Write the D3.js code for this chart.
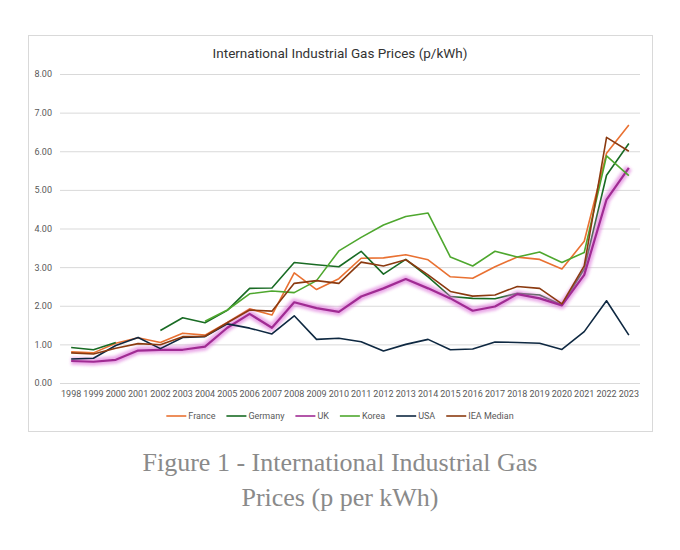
<!DOCTYPE html>
<html>
<head>
<meta charset="utf-8">
<script src="https://cdn.jsdelivr.net/npm/d3@7"></script>
<style>
  body { margin: 0; background: #fff; }
  svg { display: block; }
</style>
</head>
<body>
<svg id="chart" width="680" height="550"></svg>
<script>
var years = [1998, 1999, 2000, 2001, 2002, 2003, 2004, 2005, 2006, 2007, 2008, 2009, 2010,
  2011, 2012, 2013, 2014, 2015, 2016, 2017, 2018, 2019, 2020, 2021, 2022, 2023];

var france = [0.81, 0.78, 1.03, 1.17, 1.05, 1.29, 1.24, 1.57, 1.92, 1.76, 2.85, 2.42, 2.70,
  3.23, 3.24, 3.32, 3.19, 2.75, 2.71, 3.01, 3.26, 3.20, 2.95, 3.67, 5.95, 6.68];
var germany = [0.92, 0.86, 1.05, null, 1.36, 1.69, 1.56, 1.88, 2.45, 2.46, 3.12, 3.06, 3.01,
  3.41, 2.82, 3.20, 2.75, 2.24, 2.19, 2.18, 2.32, 2.28, 2.02, 2.95, 5.38, 6.20];
var uk = [0.57, 0.55, 0.60, 0.84, 0.86, 0.86, 0.94, 1.43, 1.79, 1.43, 2.09, 1.94, 1.84,
  2.24, 2.45, 2.69, 2.45, 2.19, 1.87, 1.98, 2.30, 2.19, 2.01, 2.80, 4.75, 5.57];
var korea = [null, null, null, null, null, null, 1.60, 1.89, 2.31, 2.38, 2.34, 2.65, 3.42,
  3.77, 4.09, 4.31, 4.40, 3.26, 3.03, 3.41, 3.26, 3.39, 3.12, 3.38, 5.88, 5.37];
var usa = [0.62, 0.64, 0.97, 1.18, 0.89, 1.18, 1.20, 1.53, 1.42, 1.27, 1.74, 1.13, 1.16,
  1.07, 0.83, 1.00, 1.13, 0.86, 0.88, 1.06, 1.05, 1.03, 0.87, 1.33, 2.13, 1.24];
var ieaMedian = [0.78, 0.75, 0.90, 1.02, 0.99, 1.20, 1.21, 1.56, 1.89, 1.86, 2.58, 2.65, 2.58,
  3.13, 3.03, 3.19, 2.80, 2.37, 2.25, 2.28, 2.50, 2.45, 2.05, 3.03, 6.36, 6.00];

var yTicks = [0, 1, 2, 3, 4, 5, 6, 7, 8];

var series = [
  { name: 'France', values: france, color: '#E97132' },
  { name: 'Germany', values: germany, color: '#196B24' },
  { name: 'UK', values: uk, color: '#A02B93', glow: true },
  { name: 'Korea', values: korea, color: '#4EA72E' },
  { name: 'USA', values: usa, color: '#0E2841' },
  { name: 'IEA Median', values: ieaMedian, color: '#8B3A10' }
];

var svg = d3.select('#chart');
var font = 'Roboto, "Noto Sans", sans-serif';

// chart frame
svg.append('rect')
  .attr('x', 28.5).attr('y', 35.5)
  .attr('width', 624).attr('height', 396)
  .attr('fill', '#fff')
  .attr('stroke', '#d9d9d9');

svg.append('text')
  .attr('x', 340).attr('y', 57.5)
  .attr('text-anchor', 'middle')
  .attr('font-family', font)
  .attr('font-size', 13.5)
  .attr('fill', '#333')
  .text('International Industrial Gas Prices (p/kWh)');

var x = d3.scaleBand().domain(years).range([60, 640]);
var y = d3.scaleLinear().domain([0, 8]).range([383, 74]);

var yAxis = svg.append('g')
  .attr('transform', 'translate(60,0)')
  .call(d3.axisLeft(y).tickValues(yTicks).tickFormat(d3.format('.2f')).tickSize(-580).tickPadding(8));
yAxis.select('.domain').remove();
yAxis.selectAll('line').attr('stroke', '#d9d9d9');
yAxis.selectAll('text')
  .attr('font-family', font).attr('font-size', 9).attr('fill', '#595959');

var xAxis = svg.append('g')
  .attr('transform', 'translate(0,383)')
  .call(d3.axisBottom(x).tickSize(0).tickPadding(8));
xAxis.select('.domain').remove();
xAxis.selectAll('text')
  .attr('font-family', font).attr('font-size', 9).attr('fill', '#595959');

var defs = svg.append('defs');
defs.append('filter')
  .attr('id', 'glow')
  .attr('x', '-10%').attr('y', '-10%').attr('width', '120%').attr('height', '120%')
  .append('feGaussianBlur')
  .attr('stdDeviation', 1.8);

var line = d3.line()
  .defined(function(d) { return d != null; })
  .x(function(d, i) { return x(years[i]) + x.bandwidth() / 2; })
  .y(function(d) { return y(d); });

series.forEach(function(s) {
  if (s.glow) {
    svg.append('path')
      .attr('d', line(s.values))
      .attr('fill', 'none')
      .attr('stroke', '#dc6fd8')
      .attr('stroke-width', 7.5)
      .attr('stroke-linejoin', 'round')
      .attr('opacity', 0.6)
      .attr('filter', 'url(#glow)');
  }
  svg.append('path')
    .attr('d', line(s.values))
    .attr('fill', 'none')
    .attr('stroke', s.color)
    .attr('stroke-width', s.glow ? 2.2 : 1.6)
    .attr('stroke-linejoin', 'round');
});

// legend, centred under the plot
var legend = svg.append('g');
var items = legend.selectAll('g')
  .data(series)
  .enter()
  .append('g');
items.append('line')
  .attr('x1', 0).attr('x2', 20)
  .attr('y1', 416).attr('y2', 416)
  .attr('stroke', function(d) { return d.color; })
  .attr('stroke-width', 1.6);
items.append('text')
  .attr('x', 22).attr('y', 419)
  .attr('font-family', font).attr('font-size', 9).attr('fill', '#595959')
  .text(function(d) { return d.name; });

var pos = 0;
items.each(function() {
  var w = 22 + d3.select(this).select('text').node().getComputedTextLength();
  d3.select(this).attr('transform', 'translate(' + pos + ',0)');
  pos += w + 11;
});
legend.attr('transform', 'translate(' + (340 - (pos - 11) / 2) + ',0)');

// figure caption
var caption = ['Figure 1 - International Industrial Gas', 'Prices (p per kWh)'];
svg.selectAll('.caption')
  .data(caption)
  .enter()
  .append('text')
  .attr('class', 'caption')
  .attr('x', 340)
  .attr('y', function(d, i) { return 471 + i * 35; })
  .attr('text-anchor', 'middle')
  .attr('font-family', '"Liberation Serif", "DejaVu Serif", serif')
  .attr('font-size', 26)
  .attr('fill', '#8a8a8a')
  .text(function(d) { return d; });
</script>
</body>
</html>
